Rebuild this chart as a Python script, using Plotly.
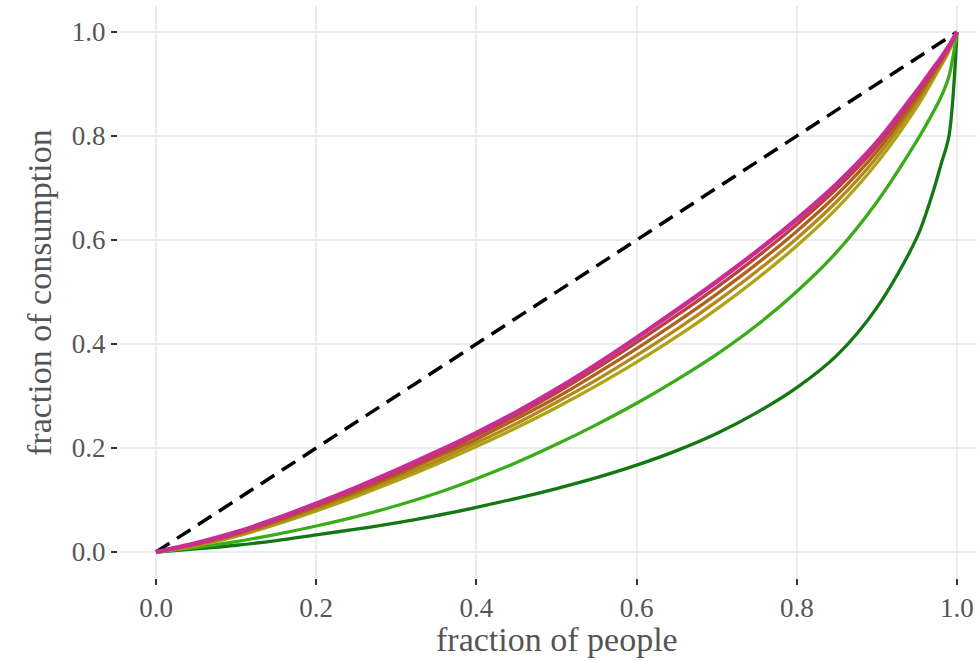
import plotly.graph_objects as go

# share of people (sorted from poorest to richest)
people = [0.0, 0.05, 0.1, 0.15, 0.2, 0.25, 0.3, 0.35, 0.4, 0.45, 0.5, 0.55,
          0.6, 0.65, 0.7, 0.75, 0.8, 0.85, 0.9, 0.95, 0.97, 0.98, 0.99, 1.0]

# cumulative share of consumption for each curve
curve_1 = [0.0, 0.006, 0.013, 0.022, 0.033, 0.044, 0.056, 0.070, 0.086, 0.103, 0.122, 0.143,
           0.167, 0.195, 0.228, 0.268, 0.316, 0.378, 0.470, 0.605, 0.692, 0.745, 0.800, 1.0]
curve_2 = [0.0, 0.009, 0.020, 0.034, 0.050, 0.068, 0.089, 0.113, 0.141, 0.172, 0.207, 0.245,
           0.286, 0.331, 0.380, 0.436, 0.501, 0.577, 0.673, 0.791, 0.845, 0.875, 0.915, 1.0]
curve_3 = [0.0, 0.012, 0.030, 0.053, 0.079, 0.107, 0.137, 0.169, 0.203, 0.239, 0.278, 0.320,
           0.365, 0.414, 0.467, 0.525, 0.589, 0.661, 0.748, 0.856, 0.908, 0.935, 0.963, 1.0]
curve_4 = [0.0, 0.013, 0.032, 0.056, 0.083, 0.112, 0.143, 0.175, 0.210, 0.247, 0.288, 0.331,
           0.378, 0.428, 0.482, 0.540, 0.603, 0.674, 0.759, 0.865, 0.914, 0.939, 0.966, 1.0]
curve_5 = [0.0, 0.015, 0.034, 0.059, 0.087, 0.116, 0.148, 0.182, 0.217, 0.256, 0.297, 0.343,
           0.391, 0.442, 0.496, 0.554, 0.617, 0.687, 0.770, 0.873, 0.919, 0.943, 0.969, 1.0]
curve_6 = [0.0, 0.016, 0.036, 0.062, 0.090, 0.121, 0.153, 0.187, 0.224, 0.263, 0.306, 0.353,
           0.403, 0.455, 0.509, 0.567, 0.630, 0.699, 0.780, 0.881, 0.925, 0.947, 0.972, 1.0]
curve_7 = [0.0, 0.017, 0.038, 0.064, 0.093, 0.124, 0.157, 0.192, 0.229, 0.269, 0.313, 0.361,
           0.412, 0.465, 0.520, 0.578, 0.640, 0.708, 0.788, 0.887, 0.929, 0.950, 0.973, 1.0]

curves = [curve_1, curve_2, curve_3, curve_4, curve_5, curve_6, curve_7]
colors = ["#137813", "#3aab19", "#aca316", "#b4891a", "#ae621d", "#b6433a", "#cb2c93"]
widths = [3.3, 3.3, 3.3, 3.3, 3.3, 3.3, 4.5]

equality = [0.0, 1.0]
tick_vals = [0.0, 0.2, 0.4, 0.6, 0.8, 1.0]
tick_text = ["0.0", "0.2", "0.4", "0.6", "0.8", "1.0"]

FONT = "Liberation Serif"
TEXT = "#555555"

fig = go.Figure()

# line of perfect equality
fig.add_trace(go.Scatter(x=equality, y=equality, mode="lines",
                         line=dict(color="black", width=3.5, dash="16px,9px"),
                         showlegend=False, hoverinfo="skip"))

for ys, c, w in zip(curves, colors, widths):
    fig.add_trace(go.Scatter(x=people, y=ys, mode="lines",
                             line=dict(color=c, width=w, shape="spline", smoothing=0.9),
                             showlegend=False))

axis_common = dict(
    tickvals=tick_vals, ticktext=tick_text,
    showgrid=True, gridcolor="#ebebeb", gridwidth=2,
    zeroline=False, showline=False,
    ticks="outside", ticklen=6, tickwidth=1.6, tickcolor="#333333",
    tickfont=dict(family=FONT, size=27, color=TEXT),
)

fig.update_layout(
    width=977, height=661,
    margin=dict(l=118, r=0, t=6, b=83),
    paper_bgcolor="white", plot_bgcolor="white",
    xaxis=dict(range=[-0.0475, 1.025], **axis_common),
    yaxis=dict(range=[-0.05, 1.05], **axis_common),
    annotations=[
        dict(text="fraction of people", x=0.5, xref="x", y=-0.108, yref="paper",
             xanchor="center", yanchor="middle", showarrow=False,
             font=dict(family=FONT, size=34, color=TEXT)),
        dict(text="fraction of consumption", x=-0.092, xref="paper", y=0.5, yref="y",
             xanchor="center", yanchor="middle", textangle=-90, showarrow=False,
             font=dict(family=FONT, size=34, color=TEXT)),
    ],
)

fig.write_html("out.html")
